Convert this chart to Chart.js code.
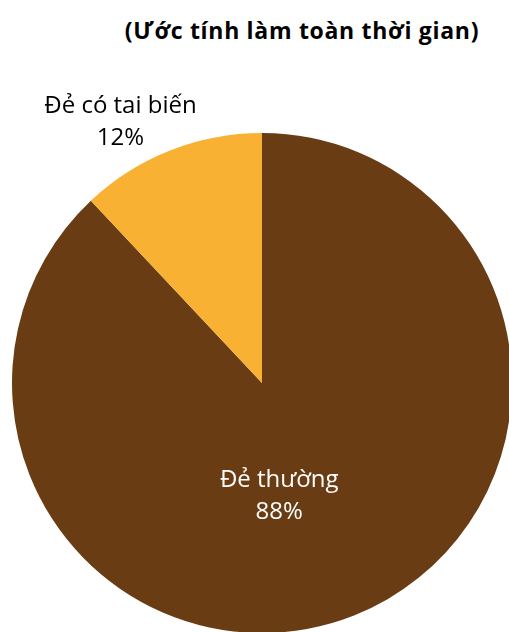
<!DOCTYPE html>
<html>
<head>
<meta charset="utf-8">
<script src="https://cdn.jsdelivr.net/npm/chart.js@4.4.0/dist/chart.umd.min.js"></script>
<style>
html,body{margin:0;padding:0;background:#fff;overflow:hidden;width:509px;height:632px}
#title{position:absolute;left:0;width:604px;top:14px;text-align:center;font:bold 23px "Open Sans",sans-serif;letter-spacing:0.7px;color:#000;white-space:nowrap}
#wrap{position:absolute;left:0;top:0;width:524px;height:640px}
</style>
</head>
<body>
<div id="title">(Ước tính làm toàn thời gian)</div>
<div id="wrap"><canvas id="pie"></canvas></div>
<script>
const categories=['Đẻ thường','Đẻ có tai biến'];
const shares=[88,12];
const sliceColors=['#6a3c13','#f8b133'];

// label placement per slice: fraction of radius along mid angle + pixel nudge
const labelPlace=[
  {r:0.47,dx:-26,dy:4,color:'#fff'},
  {r:1.19,dx:-32,dy:16,color:'#000'}
];

const sliceLabels={
  id:'sliceLabels',
  afterDatasetsDraw(chart){
    const ctx=chart.ctx;
    const meta=chart.getDatasetMeta(0);
    ctx.save();
    ctx.font='24px "Open Sans", sans-serif';
    ctx.textAlign='center';
    ctx.textBaseline='middle';
    meta.data.forEach((arc,i)=>{
      const p=arc.getProps(['x','y','startAngle','endAngle','outerRadius'],true);
      const mid=(p.startAngle+p.endAngle)/2;
      const pl=labelPlace[i];
      const x=p.x+Math.cos(mid)*p.outerRadius*pl.r+pl.dx;
      const y=p.y+Math.sin(mid)*p.outerRadius*pl.r+pl.dy;
      ctx.fillStyle=pl.color;
      ctx.fillText(categories[i],x,y-16);
      ctx.fillText(shares[i]+'%',x,y+16);
    });
    ctx.restore();
  }
};

new Chart(document.getElementById('pie'),{
  type:'pie',
  data:{labels:categories,datasets:[{data:shares,backgroundColor:sliceColors,borderWidth:0}]},
  options:{
    responsive:true,maintainAspectRatio:false,animation:false,
    layout:{padding:{left:12,right:12,top:133,bottom:7}},
    plugins:{legend:{display:false},tooltip:{enabled:false}}
  },
  plugins:[sliceLabels]
});
</script>
</body>
</html>
